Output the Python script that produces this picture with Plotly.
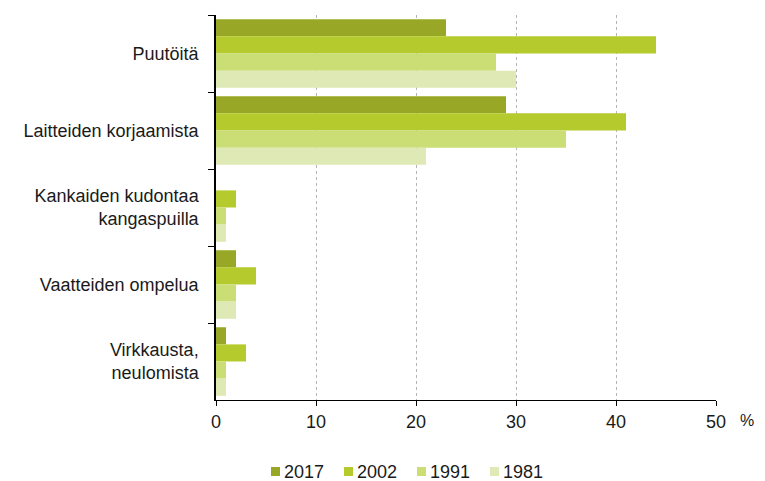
import plotly.graph_objects as go

categories = ["Puutöitä", "Laitteiden korjaamista", "Kankaiden kudontaa<br>kangaspuilla",
              "Vaatteiden ompelua", "Virkkausta,<br>neulomista"]
years = ["2017", "2002", "1991", "1981"]
v2017 = [23, 29, 0, 2, 1]
v2002 = [44, 41, 2, 4, 3]
v1991 = [28, 35, 1, 2, 1]
v1981 = [30, 21, 1, 2, 1]
colors = ["#98a826", "#b5ca2d", "#cade75", "#dfe9b5"]
x_ticks = [0, 10, 20, 30, 40, 50]

# page body has an 8px default margin; compensate so the plot lands at 216..716 x 15..400
OFF = 8
L, R, T, B = 216 - OFF, 49, 15 - OFF, 81
W, H = 765 - OFF, 481 - OFF
pw, ph = W - L - R, H - T - B


def px_x(x):  # page pixel -> paper fraction
    return (x - 216) / pw


def px_y(y):
    return (400 - y) / ph


fig = go.Figure()
for name, vals, col in zip(years, [v2017, v2002, v1991, v1981], colors):
    fig.add_trace(go.Bar(y=categories, x=vals, name=name, orientation="h",
                         marker=dict(color=col, line=dict(width=0)), showlegend=False))

# legend drawn as small squares + labels, like the reference
shapes, annotations = [], []
step = 73
for i, (name, col) in enumerate(zip(years, colors)):
    x0 = 271 + step * i
    shapes.append(dict(type="rect", xref="paper", yref="paper",
                       x0=px_x(x0), x1=px_x(x0 + 9), y0=px_y(476), y1=px_y(467),
                       fillcolor=col, line=dict(width=0)))
    annotations.append(dict(text=name, xref="paper", yref="paper", x=px_x(x0 + 11),
                            y=px_y(471.5), xanchor="left", yanchor="middle",
                            showarrow=False, font=dict(size=18)))

annotations.append(dict(text="%", xref="paper", x=px_x(755), yref="paper",
                        y=px_y(420), xanchor="right", yanchor="middle", showarrow=False,
                        borderpad=0, font=dict(size=16)))

fig.update_layout(
    width=W, height=H,
    margin=dict(l=L, r=R, t=T, b=B, autoexpand=False),
    paper_bgcolor="white", plot_bgcolor="white",
    font=dict(family="Liberation Sans, Arial, sans-serif", size=18, color="#1a1a1a"),
    barmode="group", bargap=0.11, bargroupgap=0,
    showlegend=False,
    xaxis=dict(range=[0, 50], tickvals=x_ticks, showgrid=True, gridcolor="#b4b4b4",
               griddash="dot", gridwidth=1, showline=True, linecolor="#000", linewidth=1,
               ticks="outside", ticklen=5, tickcolor="#000", zeroline=False,
               automargin=False),
    yaxis=dict(autorange="reversed", showline=True, linecolor="#000", linewidth=1.5,
               ticks="outside", ticklen=6, tickcolor="#000", tickson="boundaries",
               showgrid=False, automargin=False, ticklabelstandoff=12),
    shapes=shapes,
    annotations=annotations,
)
fig.write_html("out.html")
